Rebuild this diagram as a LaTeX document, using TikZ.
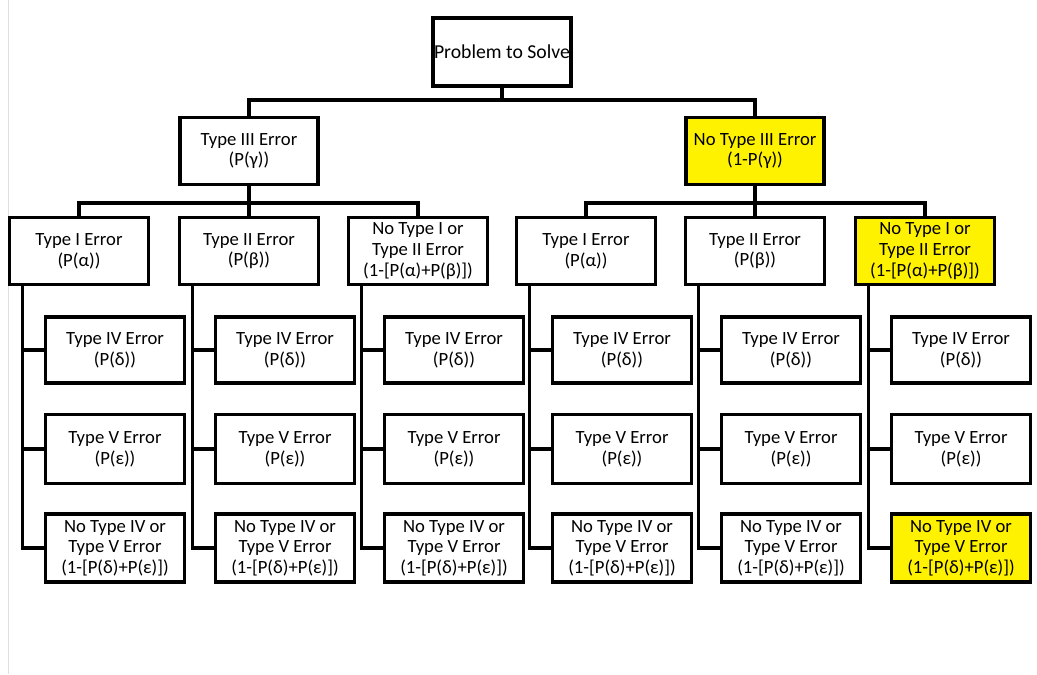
\documentclass[tikz,border=0pt]{standalone}
\usepackage{fontspec}
\setmainfont{Carlito}
\begin{document}
\begin{tikzpicture}[x=0.75pt,y=-0.75pt,
  box/.style={draw=black,line width=2.4pt,fill=white,align=center,inner sep=1pt,
    minimum width=138*0.75pt,minimum height=67*0.75pt,
    font=\fontsize{14}{15.5}\selectfont},
  hl/.style={fill=yellow},
  conn/.style={draw=black,line width=2.3pt}]
\fill[white] (0,0) rectangle (1037,674);
\useasboundingbox (0,0) rectangle (1037,674);
\draw[gray!25,line width=0.6pt] (8,0) -- (8,674);
% level 1
\node[box,minimum height=68*0.75pt,inner sep=0pt,font=\fontsize{14.8}{16}\selectfont] (top) at (502,52) {Problem to Solve};
% level 2
\node[box] (t3) at (249,151) {Type III Error\\(P(γ))};
\node[box,hl] (nt3) at (755,151) {No Type III Error\\(1-P(γ))};
\draw[conn] (top.south) -- (top.south |- 0,100) -| (t3.north);
\draw[conn] (top.south |- 0,100) -| (nt3.north);
% level 3
\foreach \n/\x/\t/\f in {
  a1/79/{Type I Error\\(P(α))}/white,
  a2/249/{Type II Error\\(P(β))}/white,
  a3/418/{No Type I or\\Type II Error\\(1-[P(α)+P(β)])}/white,
  a4/586/{Type I Error\\(P(α))}/white,
  a5/755/{Type II Error\\(P(β))}/white,
  a6/925/{No Type I or\\Type II Error\\(1-[P(α)+P(β)])}/yellow}{
  \node[box,fill=\f,minimum width=139*0.75pt] (\n) at (\x,251) {\t};
}
\draw[conn] (t3.south) -- (t3.south |- 0,203) coordinate (b1);
\draw[conn] (a1.north) |- (b1) -| (a3.north);
\draw[conn] (b1) -- (a2.north);
\draw[conn] (nt3.south) -- (nt3.south |- 0,203) coordinate (b2);
\draw[conn] (a4.north) |- (b2) -| (a6.north);
\draw[conn] (b2) -- (a5.north);
% level 4
\foreach \n/\fz in {a1/white,a2/white,a3/white,a4/white,a5/white,a6/yellow}{
  \node[box,minimum width=139*0.75pt,minimum height=66*0.75pt] (\n x) at ([xshift=36*0.75pt]\n.center |- 0,350) {Type IV Error\\(P(δ))};
  \node[box,minimum width=139*0.75pt,minimum height=69*0.75pt] (\n y) at ([xshift=36*0.75pt]\n.center |- 0,449) {Type V Error\\(P(ε))};
  \node[box,fill=\fz,minimum width=139*0.75pt,minimum height=68*0.75pt] (\n z) at ([xshift=36*0.75pt]\n.center |- 0,548) {No Type IV or\\Type V Error\\(1-[P(δ)+P(ε)])};
  \coordinate (\n l) at ([xshift=15*0.75pt]\n.south west);
  \draw[conn] (\n l) |- (\n z.west);
  \draw[conn] (\n x.west) -- (\n x.west -| \n l);
  \draw[conn] (\n y.west) -- (\n y.west -| \n l);
}
\end{tikzpicture}
\end{document}
